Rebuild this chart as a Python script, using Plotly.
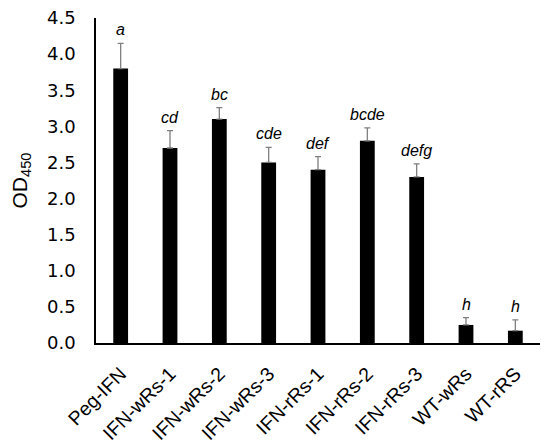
import plotly.graph_objects as go

categories = ["Peg-IFN", "IFN-wRs-1", "IFN-wRs-2", "IFN-wRs-3", "IFN-rRs-1",
              "IFN-rRs-2", "IFN-rRs-3", "WT-wRs", "WT-rRS"]
od450 = [3.80, 2.70, 3.10, 2.50, 2.40, 2.80, 2.30, 0.25, 0.17]
errors = [0.35, 0.24, 0.16, 0.21, 0.18, 0.18, 0.18, 0.10, 0.15]
letters = ["a", "cd", "bc", "cde", "def", "bcde", "defg", "h", "h"]
y_ticks = [0.0, 0.5, 1.0, 1.5, 2.0, 2.5, 3.0, 3.5, 4.0, 4.5]

fig = go.Figure()
fig.add_trace(go.Bar(
    x=categories, y=od450, width=0.3,
    marker=dict(color="black", line=dict(width=0)),
    error_y=dict(type="data", array=errors, arrayminus=[0]*len(errors),
                 symmetric=False, color="#7f7f7f", thickness=1.3, width=3),
))

for c, v, e, t in zip(categories, od450, errors, letters):
    fig.add_annotation(x=c, y=v + e, text="<i>" + t + "</i>", showarrow=False,
                       yanchor="bottom", yshift=3,
                       font=dict(family="Liberation Sans", size=16, color="black"))

# page body has an 8px default margin, so the figure is 8px smaller
fig.update_layout(
    width=542, height=437,
    margin=dict(l=88, r=10, t=10, b=102, autoexpand=False),
    paper_bgcolor="white", plot_bgcolor="white",
    showlegend=False,
    font=dict(family="Liberation Sans", color="black"),
)
fig.update_yaxes(
    range=[0, 4.5], tickvals=y_ticks, tickformat=".1f", automargin=False,
    showgrid=False, zeroline=False,
    showline=True, linecolor="black", linewidth=1.5,
    ticks="", ticklabelstandoff=15, ticklabeloverflow="allow",
    tickfont=dict(family="DejaVu Sans", size=18, color="black"),
    title=dict(text="OD<sub>450</sub>", font=dict(family="Liberation Sans", size=21, color="black"),
               standoff=20),
)
fig.update_xaxes(
    showgrid=False, showline=True, linecolor="black", linewidth=1.5, automargin=False,
    ticks="", tickangle=-45, ticklabelstandoff=10, ticklabeloverflow="allow",
    tickfont=dict(family="Liberation Sans", size=19.5, color="black"),
)

fig.write_html("out.html")
